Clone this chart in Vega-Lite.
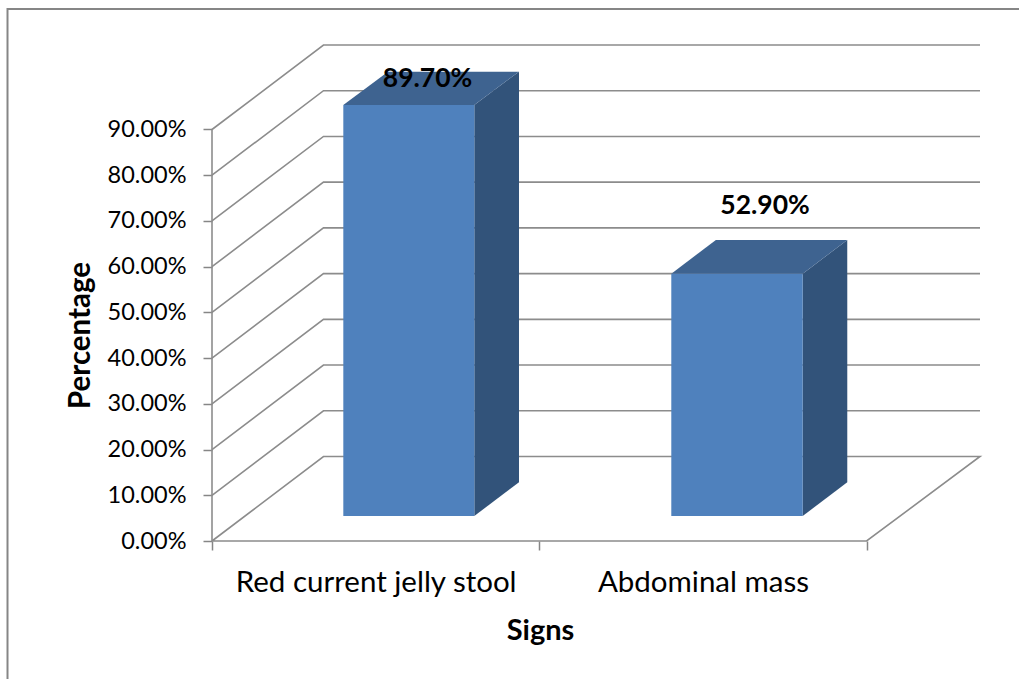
{
"$schema":"https://vega.github.io/schema/vega-lite/v6.json",
"width":768,"height":496,
"autosize":{"type":"none"},
"padding":{"left":212,"top":45,"right":39,"bottom":138},
"background":"white",
"config":{"view":{"stroke":null},"font":"Lato"},
"datasets":{
"frame":[{"cat":-0.6248,"pct":-0.3018,"seq":0},{"cat":-0.6248,"pct":1.1636,"seq":1},{"cat":2.4657,"pct":1.1636,"seq":2}],
"grid":[
{"line":"l0","seq":0,"cat":0,"pct":0},{"line":"l0","seq":1,"cat":0.3406,"pct":0.1848},{"line":"l0","seq":2,"cat":2.3465,"pct":0.1848},{"line":"l0","seq":3,"cat":2,"pct":0},{"line":"l0","seq":4,"cat":0,"pct":0},
{"line":"l1","seq":0,"cat":0,"pct":0.1},{"line":"l1","seq":1,"cat":0.3406,"pct":0.2848},{"line":"l1","seq":2,"cat":2.3465,"pct":0.2848},
{"line":"l2","seq":0,"cat":0,"pct":0.2},{"line":"l2","seq":1,"cat":0.3406,"pct":0.3848},{"line":"l2","seq":2,"cat":2.3465,"pct":0.3848},
{"line":"l3","seq":0,"cat":0,"pct":0.3},{"line":"l3","seq":1,"cat":0.3406,"pct":0.4848},{"line":"l3","seq":2,"cat":2.3465,"pct":0.4848},
{"line":"l4","seq":0,"cat":0,"pct":0.4},{"line":"l4","seq":1,"cat":0.3406,"pct":0.5848},{"line":"l4","seq":2,"cat":2.3465,"pct":0.5848},
{"line":"l5","seq":0,"cat":0,"pct":0.5},{"line":"l5","seq":1,"cat":0.3406,"pct":0.6848},{"line":"l5","seq":2,"cat":2.3465,"pct":0.6848},
{"line":"l6","seq":0,"cat":0,"pct":0.6},{"line":"l6","seq":1,"cat":0.3406,"pct":0.7848},{"line":"l6","seq":2,"cat":2.3465,"pct":0.7848},
{"line":"l7","seq":0,"cat":0,"pct":0.7},{"line":"l7","seq":1,"cat":0.3406,"pct":0.8848},{"line":"l7","seq":2,"cat":2.3465,"pct":0.8848},
{"line":"l8","seq":0,"cat":0,"pct":0.8},{"line":"l8","seq":1,"cat":0.3406,"pct":0.9848},{"line":"l8","seq":2,"cat":2.3465,"pct":0.9848},
{"line":"l9","seq":0,"cat":0,"pct":0.9},{"line":"l9","seq":1,"cat":0.3406,"pct":1.0848},{"line":"l9","seq":2,"cat":2.3465,"pct":1.0848},
{"line":"axis","seq":0,"cat":0,"pct":0},{"line":"axis","seq":1,"cat":0,"pct":0.9}
],
"bars":[
{"sign":"Red current jelly stool","cat":0.4012,"cat2":0.8014,"pct":0.9536,"pct2":0.0547},
{"sign":"Abdominal mass","cat":1.4033,"cat2":1.8048,"pct":0.5846,"pct2":0.0547}
],
"sides":[
{"sign":"Red current jelly stool","cat":0.8014,"pct":0.9536,"pct2":0.0547},
{"sign":"Red current jelly stool","cat":0.938,"pct":1.0265,"pct2":0.1284},
{"sign":"Abdominal mass","cat":1.8048,"pct":0.5846,"pct2":0.0547},
{"sign":"Abdominal mass","cat":1.941,"pct":0.6584,"pct2":0.1284}
],
"tops":[
{"sign":"Red current jelly stool","pct":0.9536,"cat":0.4012,"cat2":0.8014},
{"sign":"Red current jelly stool","pct":1.0265,"cat":0.5378,"cat2":0.938},
{"sign":"Abdominal mass","pct":0.5846,"cat":1.4033,"cat2":1.8048},
{"sign":"Abdominal mass","pct":0.6584,"cat":1.5395,"cat2":1.941}
],
"labels":[
{"sign":"Red current jelly stool","value":0.897,"cat":0.6585,"pct":1.0115},
{"sign":"Abdominal mass","value":0.529,"cat":1.6897,"pct":0.7325}
]
},
"encoding":{
"x":{"field":"cat","type":"quantitative","scale":{"domain":[0,2.3465],"nice":false,"zero":false},
"axis":{"values":[0,0.5,1,1.5,2],"grid":false,"domain":false,"tickSize":9,"tickColor":"#868686","tickWidth":1.5,
"tickOpacity":{"condition":{"test":"datum.value==0.5||datum.value==1.5","value":0},"value":1},
"labelExpr":"datum.value==0.5?'Red current jelly stool':datum.value==1.5?'Abdominal mass':''",
"labelFontSize":29.5,"labelColor":"#000000","labelPadding":18,"labelOverlap":false,"labelBound":false,"labelFlush":false,"labelFont":"Lato","labelLimit":500,
"title":"Signs","titleFontSize":29,"titleFontWeight":"bold","titleColor":"#000000","titleFont":"Lato","titleX":328,"titleY":89,"titleAnchor":"middle","titleBaseline":"middle"}},
"y":{"field":"pct","type":"quantitative","scale":{"domain":[0,1.0848],"nice":false,"zero":false},
"axis":{"values":[0,0.1,0.2,0.3,0.4,0.5,0.6,0.7,0.8,0.9],"format":".2%","grid":false,"domain":false,"tickSize":9,"tickColor":"#868686","tickWidth":1.5,
"labelFontSize":23.5,"labelColor":"#000000","labelPadding":17,"labelOverlap":false,"labelBound":false,"labelFlush":false,"labelFont":"Lato",
"title":"Percentage","titleFontSize":29.5,"titleFontWeight":"bold","titleColor":"#000000","titleFont":"Lato","titleX":-132,"titleY":290,"titleAnchor":"middle","titleBaseline":"middle"}}
},
"layer":[
{"data":{"name":"frame"},"mark":{"type":"line","color":"#868686","strokeWidth":2,"interpolate":"linear"},"encoding":{"order":{"field":"seq","type":"quantitative"}}},
{"data":{"name":"grid"},"mark":{"type":"line","color":"#8C8C8C","strokeWidth":1.6,"interpolate":"linear"},"encoding":{"detail":{"field":"line","type":"nominal"},"order":{"field":"seq","type":"quantitative"}}},
{"data":{"name":"sides"},"mark":{"type":"area","color":"#32537A","opacity":1},"encoding":{"y2":{"field":"pct2"},"detail":{"field":"sign","type":"nominal"}}},
{"data":{"name":"tops"},"mark":{"type":"area","orient":"horizontal","color":"#3E6390","opacity":1},"encoding":{"x2":{"field":"cat2"},"detail":{"field":"sign","type":"nominal"}}},
{"data":{"name":"bars"},"mark":{"type":"bar","color":"#4F81BD"},"encoding":{"x2":{"field":"cat2"},"y2":{"field":"pct2"}}},
{"data":{"name":"labels"},"mark":{"type":"text","font":"Lato","fontSize":26.5,"fontWeight":"bold","color":"#000000","align":"center","baseline":"middle"},"encoding":{"text":{"field":"value","type":"quantitative","format":".2%"}}}
]
}
